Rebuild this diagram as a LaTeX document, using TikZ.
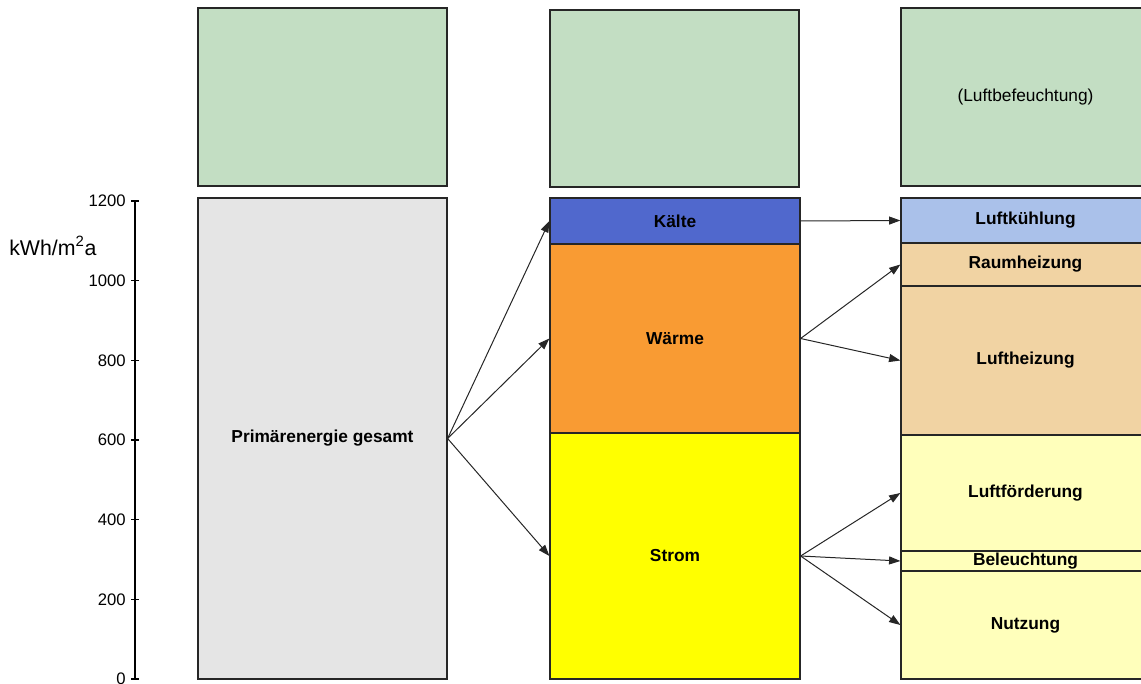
\documentclass[tikz,border=0pt]{standalone}
\usepackage{fontspec}
\setmainfont{Liberation Sans}
\usetikzlibrary{fit,arrows.meta}
\definecolor{cgreen}{HTML}{C3DEC3}
\definecolor{cgray}{HTML}{E5E5E5}
\definecolor{cblue}{HTML}{5068CD}
\definecolor{corange}{HTML}{F99B33}
\definecolor{cyellow}{HTML}{FFFF00}
\definecolor{clblue}{HTML}{AAC1EA}
\definecolor{ctan}{HTML}{F1D3A3}
\definecolor{cpale}{HTML}{FFFFBB}
\begin{document}
\begin{tikzpicture}[x=0.75pt,y=-0.75pt,
  blk/.style={inner sep=0pt, draw=black!85, line width=0.9pt},
  lbl/.style={label={[font=\fontsize{13}{15}\selectfont\bfseries, inner sep=0pt]center:#1}},
  topblk/.style={blk, fill=cgreen},
  arr/.style={-{Triangle[length=8.5pt,width=6pt]}, line width=0.75pt, black!85},
  ticklbl/.style={anchor=east, font=\fontsize{12.5}{14}\selectfont, inner sep=0pt}]
\clip (0,0) rectangle (1141,684);
% top green boxes
\node[topblk, fit={(198,8) (447,186)}] (g1) {};
\node[topblk, fit={(550,10) (799,187)}] (g2) {};
\node[topblk, fit={(901,8) (1150,186)}, label={[font=\fontsize{13}{15}\selectfont, inner sep=0pt]center:(Luftbefeuchtung)}] (g3) {};
% column 1
\node[blk, fill=cgray, fit={(198,198) (447,679)}, lbl={Primärenergie gesamt}] (prim) {};
% column 2
\node[blk, fill=cblue, fit={(550,198) (800,244)}, lbl={Kälte}] (kaelte) {};
\node[blk, fill=corange, fit={(550,244) (800,433)}, lbl={Wärme}] (waerme) {};
\node[blk, fill=cyellow, fit={(550,433) (800,679)}, lbl={Strom}] (strom) {};
% column 3
\node[blk, fill=clblue, fit={(901,198) (1150,243)}, lbl={Luftkühlung}] (kuehl) {};
\node[blk, fill=ctan, fit={(901,243) (1150,286)}, lbl={Raumheizung}] (raum) {};
\node[blk, fill=ctan, fit={(901,286) (1150,435)}, lbl={Luftheizung}] (lheiz) {};
\node[blk, fill=cpale, fit={(901,435) (1150,551)}, lbl={Luftförderung}] (lfoerd) {};
\node[blk, fill=cpale, fit={(901,551) (1150,571)}, lbl={Beleuchtung}] (bel) {};
\node[blk, fill=cpale, fit={(901,571) (1150,679)}, lbl={Nutzung}] (nutz) {};
% arrows
\draw[arr] (prim.east) -- (kaelte.west);
\draw[arr] (prim.east) -- (waerme.west);
\draw[arr] (prim.east) -- (strom.west);
\draw[arr] (kaelte.east) -- (kuehl.west);
\draw[arr] (waerme.east) -- (raum.west);
\draw[arr] (waerme.east) -- (lheiz.west);
\draw[arr] (strom.east) -- (lfoerd.west);
\draw[arr] (strom.east) -- (bel.west);
\draw[arr] (strom.east) -- (nutz.west);
% axis
\draw[line width=0.8pt] (135,201) -- (135,679);
\foreach \v in {0,200,...,1200} {
  \pgfmathsetmacro{\yy}{679-\v*0.39833}
  \draw[line width=0.8pt] (131,\yy) -- (139,\yy);
  \node[ticklbl] at (126,\yy) {\v};
}
\node[anchor=west, inner sep=0pt, font=\fontsize{16}{18}\selectfont] (unit) at (9,246) {kWh/m\textsuperscript{2}a};
\end{tikzpicture}
\end{document}
